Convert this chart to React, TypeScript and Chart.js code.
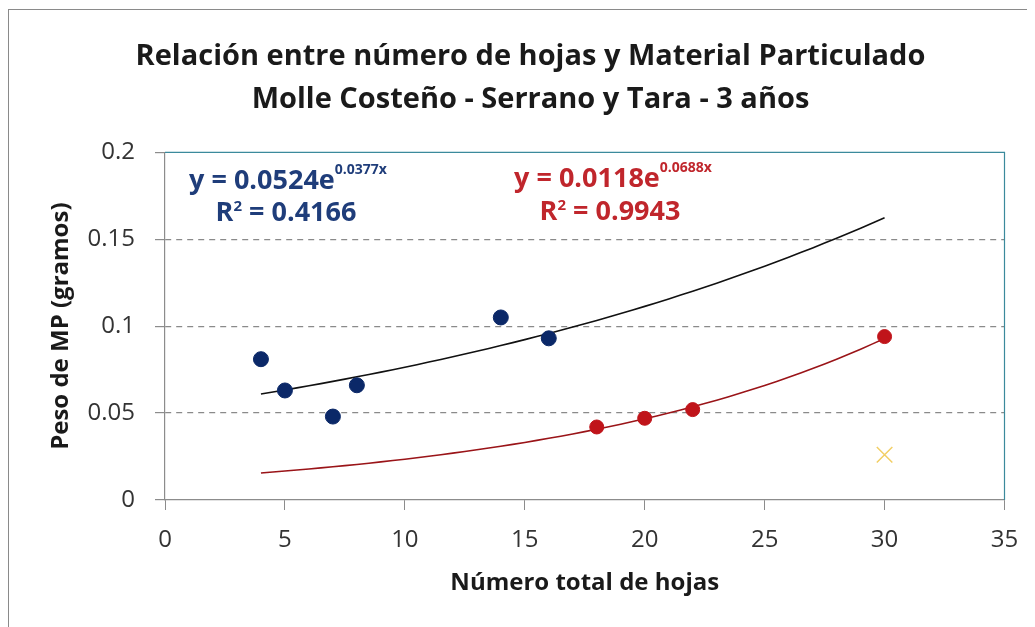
import React, { useEffect, useRef } from "react";
import { Chart, registerables } from "chart.js";

Chart.register(...registerables);

// ---- Data ----
const titleLines = [
  "Relación entre número de hojas y Material Particulado",
  "Molle Costeño - Serrano y Tara - 3 años",
];
const xAxisTitle = "Número total de hojas";
const yAxisTitle = "Peso de MP (gramos)";

const blueX = [4, 5, 7, 8, 14, 16];
const blueY = [0.081, 0.063, 0.048, 0.066, 0.105, 0.093];

const redX = [18, 20, 22, 30];
const redY = [0.042, 0.047, 0.052, 0.094];

const outlierX = [30];
const outlierY = [0.026];

// Trendline coefficients (y = a * e^(b x)) as shown on the chart
const blueTrendA = 0.0524;
const blueTrendB = 0.0377;
const blueR2 = "0.4166";
const redTrendA = 0.0118;
const redTrendB = 0.0688;
const redR2 = "0.9943";
const trendFromX = 4;
const trendToX = 30;

const xMin = 0;
const xMax = 35;
const xStep = 5;
const yMin = 0;
const yMax = 0.2;
const yStep = 0.05;

const FONT = "'Open Sans', 'Liberation Sans', sans-serif";
const BLUE = "#0b2868";
const RED = "#c0141a";
const BLUE_TXT = "#1f3d7a";
const RED_TXT = "#c0262c";

function trendPoints(a: number, b: number) {
  const pts: { x: number; y: number }[] = [];
  const n = 52;
  for (let i = 0; i <= n; i++) {
    const x = trendFromX + ((trendToX - trendFromX) * i) / n;
    pts.push({ x, y: a * Math.exp(b * x) });
  }
  return pts;
}

function zip(xs: number[], ys: number[]) {
  return xs.map((x, i) => ({ x, y: ys[i] }));
}

type Part = { text: string; size: number; rise: number };

function drawRich(ctx: CanvasRenderingContext2D, parts: Part[], cx: number, baseline: number, color: string) {
  let total = 0;
  const widths = parts.map((p) => {
    ctx.font = `bold ${p.size}px ${FONT}`;
    const w = ctx.measureText(p.text).width;
    total += w;
    return w;
  });
  let x = cx - total / 2;
  ctx.fillStyle = color;
  ctx.textBaseline = "alphabetic";
  ctx.textAlign = "left";
  parts.forEach((p, i) => {
    ctx.font = `bold ${p.size}px ${FONT}`;
    ctx.fillText(p.text, x, baseline - p.rise);
    x += widths[i];
  });
}

const decorPlugin = {
  id: "decor",
  beforeDraw(chart: any) {
    const { ctx, width, height } = chart;
    ctx.save();
    ctx.fillStyle = "#ffffff";
    ctx.fillRect(0, 0, width, height);
    ctx.strokeStyle = "#8a8a8a";
    ctx.lineWidth = 1;
    ctx.strokeRect(0.5, 1.5, width + 20, height + 20);
    ctx.restore();
  },
  afterDraw(chart: any) {
    const { ctx, chartArea } = chart;
    const { left, right, top } = chartArea;
    ctx.save();
    ctx.strokeStyle = "#3b8a9c";
    ctx.lineWidth = 1.2;
    ctx.beginPath();
    ctx.moveTo(left, top);
    ctx.lineTo(right, top);
    ctx.lineTo(right, chartArea.bottom);
    ctx.stroke();

    // Title
    ctx.fillStyle = "#1a1a1a";
    ctx.font = `bold 29px ${FONT}`;
    ctx.textAlign = "center";
    ctx.textBaseline = "alphabetic";
    ctx.fillText(titleLines[0], 522.5, 57);
    ctx.fillText(titleLines[1], 522.5, 99.5);

    const fmt = (v: number) => v.toFixed(4);
    drawRich(
      ctx,
      [
        { text: `y = ${fmt(blueTrendA)}e`, size: 27, rise: 0 },
        { text: `${fmt(blueTrendB)}x`, size: 14, rise: 15 },
      ],
      left + 123,
      top + 37,
      BLUE_TXT
    );
    drawRich(
      ctx,
      [
        { text: "R", size: 27, rise: 0 },
        { text: "2", size: 15, rise: 10 },
        { text: ` = ${blueR2}`, size: 27, rise: 0 },
      ],
      left + 121,
      top + 69,
      BLUE_TXT
    );
    drawRich(
      ctx,
      [
        { text: `y = ${fmt(redTrendA)}e`, size: 27, rise: 0 },
        { text: `${fmt(redTrendB)}x`, size: 14, rise: 15 },
      ],
      left + 448,
      top + 35,
      RED_TXT
    );
    drawRich(
      ctx,
      [
        { text: "R", size: 27, rise: 0 },
        { text: "2", size: 15, rise: 10 },
        { text: ` = ${redR2}`, size: 27, rise: 0 },
      ],
      left + 445,
      top + 68,
      RED_TXT
    );
    ctx.restore();
  },
};

export default function App() {
  const ref = useRef<HTMLCanvasElement | null>(null);

  useEffect(() => {
    if (!ref.current) return;
    const chart = new Chart(ref.current, {
      type: "scatter",
      data: {
        datasets: [
          {
            type: "line",
            label: "Tendencia azul",
            data: trendPoints(blueTrendA, blueTrendB),
            borderColor: "#111111",
            borderWidth: 1.6,
            pointRadius: 0,
            showLine: true,
            fill: false,
            tension: 0,
            order: 3,
          } as any,
          {
            type: "line",
            label: "Tendencia roja",
            data: trendPoints(redTrendA, redTrendB),
            borderColor: "#9a1418",
            borderWidth: 1.6,
            pointRadius: 0,
            showLine: true,
            fill: false,
            tension: 0,
            order: 3,
          } as any,
          {
            label: "Serie azul",
            data: zip(blueX, blueY),
            backgroundColor: BLUE,
            borderColor: BLUE,
            pointRadius: 7.5,
            order: 1,
          },
          {
            label: "Serie roja",
            data: zip(redX, redY),
            backgroundColor: RED,
            borderColor: RED,
            pointRadius: 7,
            order: 1,
          },
          {
            label: "Atípico",
            data: zip(outlierX, outlierY),
            pointStyle: "crossRot",
            borderColor: "#f2cf66",
            backgroundColor: "#f2cf66",
            borderWidth: 1.5,
            pointRadius: 11,
            order: 1,
          },
        ],
      },
      options: {
        animation: false,
        responsive: false,
        devicePixelRatio: 1,
        layout: { padding: { left: 0, right: 30.5, top: 144.3, bottom: 0 } },
        plugins: {
          legend: { display: false },
          tooltip: { enabled: false },
          title: { display: false },
        },
        scales: {
          x: {
            type: "linear",
            min: xMin,
            max: xMax,
            ticks: {
              stepSize: xStep,
              color: "#333333",
              font: { family: FONT, size: 24 },
              padding: 16,
            },
            grid: {
              drawOnChartArea: false,
              drawTicks: true,
              tickLength: 10,
              tickColor: "#8c8c8c",
              color: "#8c8c8c",
            },
            border: { color: "#8c8c8c", width: 1.2 },
            title: {
              display: true,
              text: xAxisTitle,
              color: "#1a1a1a",
              font: { family: FONT, size: 24, weight: "bold" },
              padding: { top: 0, bottom: 29 },
            },
            afterFit(scale: any) {
              scale.height = 127;
            },
          },
          y: {
            type: "linear",
            min: yMin,
            max: yMax,
            ticks: {
              stepSize: yStep,
              color: "#333333",
              font: { family: FONT, size: 24 },
              padding: 20,
              callback: (v: any) => String(Number(Number(v).toFixed(4))),
            },
            grid: {
              drawOnChartArea: true,
              drawTicks: true,
              tickLength: 10,
              tickColor: "#8c8c8c",
              tickBorderDash: [],
              lineWidth: 1.2,
              color: (c: any) =>
                c.tick && (Math.abs(c.tick.value - yMin) < 1e-9 || Math.abs(c.tick.value - yMax) < 1e-9)
                  ? "rgba(0,0,0,0)"
                  : "#8a8a8a",
            },
            border: { color: "#8c8c8c", width: 1.2, dash: [6, 5] },
            title: {
              display: true,
              text: yAxisTitle,
              color: "#1a1a1a",
              font: { family: FONT, size: 24, weight: "bold" },
              padding: { top: 39, bottom: 0 },
            },
            afterFit(scale: any) {
              scale.width = 157;
            },
          },
        },
      },
      plugins: [decorPlugin],
    } as any);
    return () => chart.destroy();
  }, []);

  return (
    <canvas
      ref={ref}
      width={1027}
      height={619}
      style={{ display: "block", width: "1027px", height: "619px" }}
    />
  );
}
